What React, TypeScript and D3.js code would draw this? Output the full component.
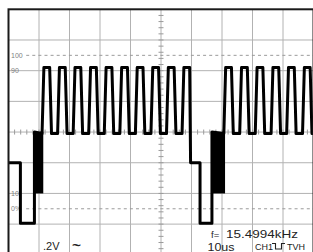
import React from "react";
import * as d3 from "d3";

const W = 313;
const H = 252;

// Graticule (x in µs, 10 µs/div ; y in % of video amplitude)
const gridTimes = [0, 10, 20, 30, 40, 50, 60, 70, 80, 90, 100];
const gridPercents = [-30, -10, 10, 30, 50, 70, 90, 110, 130];
const refLevels = [100, 90, 10, 0];
const refLabels = ["100", "90", "10", "0%"];
const dashedLevels = [100, 0];

// Signal levels (%)
const blankLevel = 30;
const syncLevel = -9.5;
const burstTop = 50;
const burstBottom = 10;
const whiteLevel = 92;
const darkLevel = 49;

// Line timing (µs)
const syncStarts = [3.9, 62.8];
const syncEnds = [8.5, 66.7];
const burstStarts = [8.4, 66.6];
const burstEnds = [11.4, 71.0];
const pulses1 = [11.0, 16.1, 21.2, 26.3, 31.4, 36.5, 41.6, 46.7, 51.8, 56.9];
const pulses2 = [70.6, 75.8, 80.9, 86.1, 91.2, 96.4];
const riseTime = 0.6;
const highTime = 1.9;

// Readouts
const voltText = ".2V";
const couplingText = "~";
const freqLabel = "f=";
const freqValue = "15.4994kHz";
const timeText = "10us";
const chText = "CH1";
const trigText = "TVH";

export default function App() {
  const x = d3.scaleLinear().domain([0, 100]).range([8.5, 313.5]);
  const y = d3.scaleLinear().domain([-30, 130]).range([254.8, 9.3]);

  const pts: [number, number][] = [];
  pts.push(
    [0, blankLevel],
    [syncStarts[0], blankLevel],
    [syncStarts[0], syncLevel],
    [syncEnds[0], syncLevel],
    [syncEnds[0], burstTop]
  );
  pulses1.forEach((r, i) => {
    pts.push([r, darkLevel], [r + riseTime, whiteLevel], [r + riseTime + highTime, whiteLevel]);
    if (i < pulses1.length - 1) pts.push([r + 2 * riseTime + highTime, darkLevel]);
    else pts.push([r + riseTime + highTime + 0.3, blankLevel]);
  });
  pts.push(
    [syncStarts[1], blankLevel],
    [syncStarts[1], syncLevel],
    [syncEnds[1], syncLevel],
    [syncEnds[1], burstTop]
  );
  pulses2.forEach((r) => {
    pts.push(
      [r, darkLevel],
      [r + riseTime, whiteLevel],
      [r + riseTime + highTime, whiteLevel],
      [r + 2 * riseTime + highTime, darkLevel]
    );
  });
  pts.push([100, darkLevel]);

  const line = d3
    .line<[number, number]>()
    .x((d) => x(d[0]))
    .y((d) => y(d[1]));

  const vTicks = d3.range(-30, 130.01, 4);
  const hTicks = d3.range(0, 100.01, 2);
  const gridColor = "#b2b2b2";
  const font = "Arial, 'Liberation Sans', sans-serif";

  return (
    <svg
      width={W}
      height={H}
      style={{ position: "absolute", left: 0, top: 0, background: "#fff" }}
    >
      <defs>
        <clipPath id="plot">
          <rect x={x(0)} y={y(130)} width={x(100) - x(0)} height={y(-30) - y(130)} />
        </clipPath>
      </defs>
      <rect x={0} y={0} width={W} height={H} fill="#fff" />
      <g clipPath="url(#plot)">
        {gridTimes.map((t) => (
          <line key={"gx" + t} x1={x(t)} x2={x(t)} y1={y(130)} y2={y(-30)} stroke={gridColor} strokeWidth={1} />
        ))}
        {gridPercents.map((p) => (
          <line key={"gy" + p} x1={x(0)} x2={x(100)} y1={y(p)} y2={y(p)} stroke={gridColor} strokeWidth={1} />
        ))}
        {vTicks.map((p) => (
          <line key={"vt" + p} x1={x(50) - 2.5} x2={x(50) + 2.5} y1={y(p)} y2={y(p)} stroke="#9a9a9a" strokeWidth={1} />
        ))}
        {hTicks.map((t) => (
          <line key={"ht" + t} x1={x(t)} x2={x(t)} y1={y(50) - 2.5} y2={y(50) + 2.5} stroke="#9a9a9a" strokeWidth={1} />
        ))}
        {dashedLevels.map((p) => (
          <line
            key={"dl" + p}
            x1={x(5.8)}
            x2={x(100)}
            y1={y(p)}
            y2={y(p)}
            stroke="#9a9a9a"
            strokeWidth={1}
            strokeDasharray="3 3.1"
          />
        ))}
        {refLevels.map((p, i) => (
          <text
            key={"rl" + p}
            x={11}
            y={y(p)}
            dy="0.35em"
            fontSize={7}
            fill="#808080"
            fontFamily={font}
          >
            {refLabels[i]}
          </text>
        ))}
        {burstStarts.map((b, i) => (
          <rect
            key={"b" + i}
            x={x(b)}
            y={y(burstTop)}
            width={x(burstEnds[i]) - x(b)}
            height={y(burstBottom) - y(burstTop)}
            fill="#000"
          />
        ))}
        <path d={line(pts) || ""} fill="none" stroke="#000" strokeWidth={3} strokeLinejoin="round" />
      </g>
      <rect
        x={x(0)}
        y={y(130)}
        width={x(100) - x(0)}
        height={y(-30) - y(130)}
        fill="none"
        stroke="#1a1a1a"
        strokeWidth={2}
      />
      <text x={43} y={250} fontSize={11} fill="#222" fontFamily={font}>
        {voltText}
      </text>
      <text
        x={0}
        y={0}
        fontSize={11}
        fontWeight="bold"
        fill="#222"
        fontFamily={font}
        transform="translate(72,249.5) scale(1.4,1.2)"
      >
        {couplingText}
      </text>
      <text x={211} y={238} fontSize={9.5} fill="#222" fontFamily={font}>
        {freqLabel}
      </text>
      <text x={226} y={238} fontSize={11.5} fill="#222" fontFamily={font} textLength={72} lengthAdjust="spacingAndGlyphs">
        {freqValue}
      </text>
      <text x={207.5} y={250.5} fontSize={11} fill="#222" fontFamily={font} textLength={27} lengthAdjust="spacingAndGlyphs">
        {timeText}
      </text>
      <text x={255} y={250} fontSize={9} fill="#222" fontFamily={font}>
        {chText}
      </text>
      <path d="M272,243.5 h3.5 v5.5 h6 v-5.5 h3.5" fill="none" stroke="#222" strokeWidth={1.1} />
      <text x={287} y={250} fontSize={9} fill="#222" fontFamily={font}>
        {trigText}
      </text>
    </svg>
  );
}
